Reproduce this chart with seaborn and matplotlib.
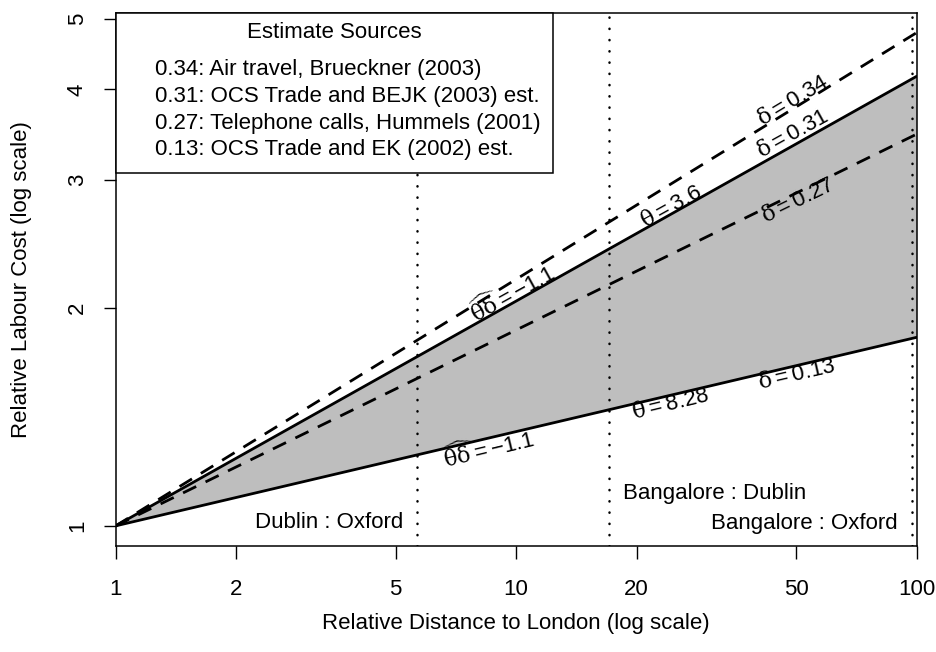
import numpy as np
import pandas as pd
import matplotlib
matplotlib.use("Agg")
import matplotlib.pyplot as plt
from matplotlib.patches import Rectangle
from matplotlib.ticker import FixedLocator, FixedFormatter, NullLocator
import seaborn as sns

# ---------------- data ----------------
distance = [1, 100]                      # relative distance to London
cost_d034 = [1.0, 4.79]                  # delta = 0.34 (dashed)
cost_d031 = [1.0, 4.17]                  # delta = 0.31 (solid, theta = 3.6)
cost_d027 = [1.0, 3.47]                  # delta = 0.27 (dashed)
cost_d013 = [1.0, 1.82]                  # delta = 0.13 (solid, theta = 8.28)
line_names = ["0.34", "0.31", "0.27", "0.13"]
line_kinds = ["dashed", "solid", "dashed", "solid"]

city_pairs = ["Dublin : Oxford", "Bangalore : Dublin", "Bangalore : Oxford"]
city_dist = [5.67, 17.1, 97.3]

x_ticks = [1, 2, 5, 10, 20, 50, 100]
y_ticks = [1, 2, 3, 4, 5]

legend_title = "Estimate Sources"
legend_items = ["0.34: Air travel, Brueckner (2003)",
                "0.31: OCS Trade and BEJK (2003) est.",
                "0.27: Telephone calls, Hummels (2001)",
                "0.13: OCS Trade and EK (2002) est."]

# ---------------- style ----------------
sns.set_style("ticks")
plt.rcParams["font.family"] = ["Liberation Sans", "DejaVu Sans"]
plt.rcParams["mathtext.fontset"] = "custom"
plt.rcParams["mathtext.rm"] = "Liberation Sans"
plt.rcParams["mathtext.it"] = "DejaVu Serif"
plt.rcParams["mathtext.sf"] = "Liberation Sans"
plt.rcParams["lines.scale_dashes"] = False
plt.rcParams["text.color"] = "black"
plt.rcParams["axes.edgecolor"] = "black"
plt.rcParams["xtick.color"] = "black"
plt.rcParams["ytick.color"] = "black"
plt.rcParams["axes.labelcolor"] = "black"

FS = 16
W, H = 936, 652
fig = plt.figure(figsize=(W / 100, H / 100), dpi=100)
L, R, T, B = 115.7, 916.5, 13, 546
ax = fig.add_axes([L / W, (H - B) / H, (R - L) / W, (B - T) / H])
ax.set_xscale("log")
ax.set_yscale("log")

df = pd.DataFrame({
    "distance": distance * 4,
    "cost": cost_d034 + cost_d031 + cost_d027 + cost_d013,
    "source": sum([[n] * len(distance) for n in line_names], []),
    "kind": sum([[k] * len(distance) for k in line_kinds], []),
})

# shaded band between the two solid lines
ax.fill_between(distance, cost_d013, cost_d031, color="#BEBEBE", lw=0, zorder=1)

sns.lineplot(data=df, x="distance", y="cost", units="source", estimator=None,
             style="kind", dashes={"solid": "", "dashed": (10.5, 7.5)},
             style_order=["solid", "dashed"], color="black", lw=2.0,
             legend=False, ax=ax, zorder=3)

for v in city_dist:
    ax.axvline(v, color="black", lw=1.8, dashes=(0.2, 7.9),
               dash_capstyle="round", zorder=4)

ax.set_xlim(1, 100)
ax.set_ylim(0.938, 5.10)
ax.xaxis.set_major_locator(FixedLocator(x_ticks))
ax.xaxis.set_major_formatter(FixedFormatter([str(t) for t in x_ticks]))
ax.yaxis.set_major_locator(FixedLocator(y_ticks))
ax.yaxis.set_major_formatter(FixedFormatter([str(t) for t in y_ticks]))
ax.xaxis.set_minor_locator(NullLocator())
ax.yaxis.set_minor_locator(NullLocator())
ax.tick_params(axis="both", length=9, width=1.0, labelsize=FS, direction="out")
ax.tick_params(axis="x", pad=15)
ax.tick_params(axis="y", pad=11, labelrotation=90)
for lab in ax.get_yticklabels():
    lab.set_va("center")
for s in ax.spines.values():
    s.set_linewidth(1.1)
    s.set_color("black")

ax.set_xlabel("Relative Distance to London (log scale)", fontsize=FS)
ax.set_ylabel("Relative Labour Cost (log scale)", fontsize=FS)
ax.xaxis.set_label_coords(0.5, (B - 624) / (B - T))
ax.yaxis.set_label_coords((22 - L) / (R - L), 0.5)
ax.xaxis.label.set_va("center")
ax.yaxis.label.set_va("center")

# line annotations
ann = [
    (r"$\delta = 0.34$", 49.2, 3.857, 31.0),
    (r"$\delta = 0.31$", 49.2, 3.474, 29.0),
    (r"$\theta = 3.6$", 24.5, 2.754, 29.0),
    (r"$\widehat{\theta\delta} = -1.1$", 9.77, 2.096, 29.0),
    (r"$\delta = 0.27$", 50.6, 2.808, 26.0),
    (r"$\theta = 8.28$", 24.4, 1.469, 13.5),
    (r"$\widehat{\theta\delta} = -1.1$", 8.56, 1.277, 13.5),
    (r"$\delta = 0.13$", 50.3, 1.615, 13.0),
]
for txt, xx, yy, rot in ann:
    ax.text(xx, yy, txt, fontsize=FS, rotation=rot, rotation_mode="anchor",
            ha="center", va="center", zorder=5)

# city-pair labels next to the dotted lines
tr = ax.get_xaxis_transform()
ax.annotate(city_pairs[0], xy=(city_dist[0], (B - 523) / (B - T)), xycoords=tr,
            xytext=(-10, 0), textcoords="offset points", ha="right", va="center", fontsize=FS)
ax.annotate(city_pairs[1], xy=(city_dist[1], (B - 493) / (B - T)), xycoords=tr,
            xytext=(10, 0), textcoords="offset points", ha="left", va="center", fontsize=FS)
ax.annotate(city_pairs[2], xy=(city_dist[2], (B - 523) / (B - T)), xycoords=tr,
            xytext=(-10.5, 0), textcoords="offset points", ha="right", va="center", fontsize=FS)

# legend box (R style)
bx1 = (553 - L) / (R - L)
by0 = (B - 173) / (B - T)
ax.add_patch(Rectangle((0, by0), bx1, 1 - by0, transform=ax.transAxes,
                       facecolor="white", edgecolor="black", lw=1.1, zorder=10, clip_on=False))
ax.text(bx1 / 2, (B - 33) / (B - T), legend_title, transform=ax.transAxes,
        ha="center", va="center", fontsize=FS, zorder=11)
for i, item in enumerate(legend_items):
    yy = (B - (70 + 26.5 * i)) / (B - T)
    ax.text((155 - L) / (R - L), yy, item, transform=ax.transAxes,
            ha="left", va="center", fontsize=FS, zorder=11)

fig.savefig("out.png", dpi=100)
